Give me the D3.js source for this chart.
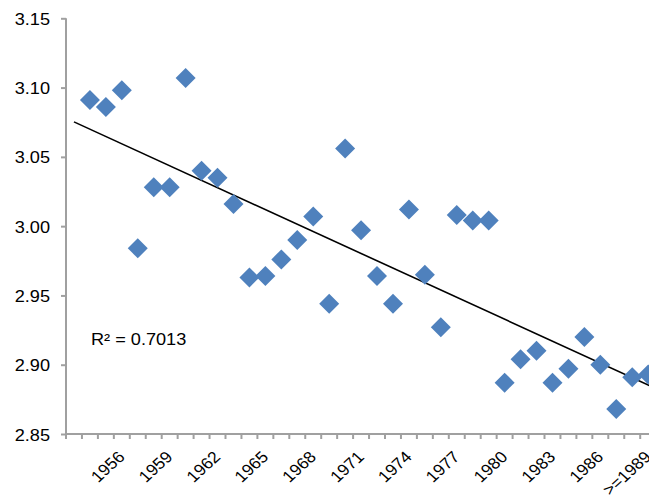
<!DOCTYPE html>
<html>
<head>
<meta charset="utf-8">
<script src="https://cdn.jsdelivr.net/npm/d3@7"></script>
<style>
  html, body { margin: 0; padding: 0; background: #fff; overflow: hidden; }
  text { font-family: "Liberation Sans", Arial, sans-serif; fill: #000; }
</style>
</head>
<body>
<svg id="chart" width="649" height="497"></svg>
<script>
// ---- data ----
const categories = ["", "1954","1955","1956","1957","1958","1959","1960","1961","1962","1963",
  "1964","1965","1966","1967","1968","1969","1970","1971","1972","1973","1974","1975","1976",
  "1977","1978","1979","1980","1981","1982","1983","1984","1985","1986","1987","1988",">=1989"];
const values = [null, 3.091, 3.086, 3.098, 2.984, 3.028, 3.028, 3.107, 3.040, 3.035, 3.016,
  2.963, 2.964, 2.976, 2.990, 3.007, 2.944, 3.056, 2.997, 2.964, 2.944, 3.012, 2.965, 2.927,
  3.008, 3.004, 3.004, 2.887, 2.904, 2.910, 2.887, 2.897, 2.920, 2.900, 2.868, 2.891, 2.893];
const yTicks = [2.85, 2.90, 2.95, 3.00, 3.05, 3.10, 3.15];
const r2Label = "R\u00B2 = 0.7013";

// ---- layout ----
const pLeft = 66, pTop = 18.3, pBottom = 434, bandW = 15.95;
const pRight = pLeft + bandW * categories.length;
const fs = 16.5, sx = 1.1;
const svg = d3.select("#chart");

const x = d3.scaleBand().domain(categories.map((c, i) => i)).range([pLeft, pRight]).padding(0);
const y = d3.scaleLinear().domain([2.85, 3.15]).range([pBottom, pTop]);
const cx = i => x(i) + x.bandwidth() / 2;

const axisColor = "#a0a0a0";

// y axis
const yAxis = svg.append("g").attr("transform", `translate(${pLeft},0)`)
  .call(d3.axisLeft(y).tickValues(yTicks).tickFormat(d3.format(".2f")).tickSize(5).tickPadding(11));
yAxis.select(".domain").attr("stroke", axisColor).attr("stroke-width", 2).attr("d", `M0,${pTop}V${pBottom}`);
yAxis.selectAll(".tick line").attr("stroke", axisColor).attr("stroke-width", 2);
yAxis.selectAll(".tick text")
  .attr("font-size", fs + "px").attr("font-family", "Liberation Sans, Arial, sans-serif").attr("fill", "#000")
  .attr("x", null).attr("dy", null)
  .attr("transform", `translate(-16,6) scale(${sx},1)`);

// x axis
const xg = svg.append("g");
xg.append("line").attr("x1", pLeft).attr("x2", pRight).attr("y1", pBottom).attr("y2", pBottom)
  .attr("stroke", axisColor).attr("stroke-width", 2);
const edges = d3.range(categories.length + 1);
xg.selectAll("line.xt").data(edges).join("line").attr("class", "xt")
  .attr("x1", i => pLeft + i * x.step()).attr("x2", i => pLeft + i * x.step())
  .attr("y1", pBottom).attr("y2", pBottom + 5)
  .attr("stroke", axisColor).attr("stroke-width", 2);
xg.selectAll("text.xl").data(categories.map((c, i) => ({c, i})).filter(d => d.i > 0 && d.i % 3 === 0))
  .join("text").attr("class", "xl")
  .attr("transform", d => `translate(${cx(d.i) + 4},${pBottom + 24}) scale(${sx},1) rotate(-45)`)
  .attr("text-anchor", "end").attr("font-size", "16px")
  .text(d => d.c);

// trendline (least squares over category index)
const pts = values.map((v, i) => ({i, v})).filter(d => d.v !== null);
const mx = d3.mean(pts, d => d.i), my = d3.mean(pts, d => d.v);
const slope = d3.sum(pts, d => (d.i - mx) * (d.v - my)) / d3.sum(pts, d => (d.i - mx) ** 2);
const icpt = my - slope * mx;
const t0 = 0, t1 = categories.length - 1;
svg.append("line")
  .attr("x1", cx(t0)).attr("y1", y(icpt + slope * t0))
  .attr("x2", cx(t1) + x.step()).attr("y2", y(icpt + slope * (t1 + 1)))
  .attr("stroke", "#000").attr("stroke-width", 1.6);

// points (diamonds)
svg.selectAll("path.pt").data(pts).join("path").attr("class", "pt")
  .attr("d", d3.symbol().type(d3.symbolSquare).size(200))
  .attr("transform", d => `translate(${cx(d.i)},${y(d.v)}) rotate(45)`)
  .attr("fill", "#4f81bd");

// R² label
svg.append("text").attr("transform", `translate(91,345) scale(${sx},1)`)
  .attr("font-size", fs + "px").text(r2Label);
</script>
</body>
</html>
